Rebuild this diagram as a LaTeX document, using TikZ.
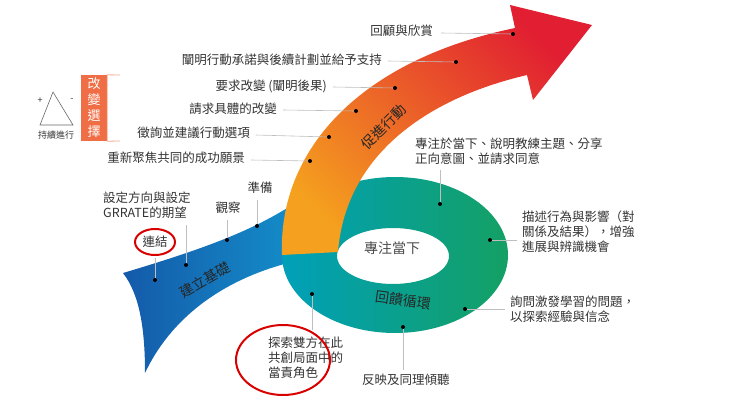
\documentclass[tikz,border=0pt]{standalone}
\usepackage{fontspec}
\setmainfont{Noto Sans CJK TC}
\begin{document}
\begin{tikzpicture}[x=1pt,y=-1pt,
  lbl/.style={font=\fontsize{12.5}{15}\selectfont, text=black!80, inner sep=0pt},
  lead/.style={draw=black!25, line width=0.6pt},
  dotm/.style={circle, fill=black, inner sep=0pt, minimum size=4pt},
  band/.style={font=\fontsize{14}{16}\selectfont, text=black!85, inner sep=0pt},
  redring/.style={draw=red!85!black, line width=2pt}]
\useasboundingbox (0,0) rectangle (740,416);
\definecolor{bblue}{RGB}{20,90,170}
\definecolor{bblue2}{RGB}{20,140,200}
\definecolor{rteal}{RGB}{0,160,185}
\definecolor{rgreen}{RGB}{20,160,100}
\definecolor{aorange}{RGB}{245,160,30}
\definecolor{ared}{RGB}{225,30,50}
\definecolor{boxor}{RGB}{240,110,70}
% blue band
\path[left color=bblue, right color=bblue2]
  (123,273) .. controls (200,250) and (250,232) .. (292,205) -- (292,262)
  .. controls (220,280) and (170,320) .. (145,373)
  .. controls (145,330) and (140,295) .. (123,273) -- cycle;
% green ring
\path[even odd rule, left color=rteal, right color=rgreen]
  (395,255) ellipse [x radius=113, y radius=78]
  (393,256) ellipse [x radius=56, y radius=28];
% arrow
\path[bottom color=aorange, top color=ared, shading angle=-45]
  (282,255) .. controls (278,150) and (360,60) .. (515,28) -- (510,5) -- (592,25)
  -- (533,100) -- (527,75) .. controls (420,100) and (345,160) .. (338,252) -- cycle;
% band labels
\node[band, rotate=45] (l1) at (384,127) {促進行動};
\node[band, rotate=30] (l2) at (205,280) {建立基礎};
\node[band, rotate=-8] (l3) at (403,300) {回饋循環};
\node[band, text=black!70] (l4) at (392,248) {專注當下};
% dots
\node[dotm] (d1) at (513,34) {};
\node[dotm] (d2) at (456,62) {};
\node[dotm] (d3) at (395,88) {};
\node[dotm] (d4) at (356,111) {};
\node[dotm] (d5) at (329,137) {};
\node[dotm] (d6) at (310,161) {};
\node[dotm] (d7) at (155,280) {};
\node[dotm] (d8) at (186,265) {};
\node[dotm] (d9) at (227,240) {};
\node[dotm] (d10) at (257,226) {};
\node[dotm] (d11) at (312,294) {};
\node[dotm] (d12) at (403,327) {};
\node[dotm] (d13) at (465,309) {};
\node[dotm] (d14) at (490,240) {};
\node[dotm] (d15) at (440,204) {};
% labels
\node[lbl, anchor=east] (t1) at (433,31) {回顧與欣賞};
\node[lbl, anchor=east] (t2) at (382,60) {闡明行動承諾與後續計劃並給予支持};
\node[lbl, anchor=east] (t3) at (327,86) {要求改變 (闡明後果)};
\node[lbl, anchor=east] (t4) at (277,109) {請求具體的改變};
\node[lbl, anchor=east] (t5) at (250,133) {徵詢並建議行動選項};
\node[lbl, anchor=east] (t6) at (245,158) {重新聚焦共同的成功願景};
\node[lbl, align=left, anchor=west] (t7) at (103,205) {設定方向與設定\\GRRATE的期望};
\node[lbl] (t8) at (228,208) {觀察};
\node[lbl] (t9) at (260,188) {準備};
\node[lbl] (t10) at (155,242) {連結};
\node[lbl, align=left, anchor=north west] (t11) at (268,337) {探索雙方在此\\共創局面中的\\當責角色};
\node[lbl, anchor=west] (t12) at (362,380) {反映及同理傾聽};
\node[lbl, align=left, anchor=west] (t13) at (510,309) {詢問激發學習的問題，\\以探索經驗與信念};
\node[lbl, align=left, anchor=west] (t14) at (522,232) {描述行為與影響（對\\關係及結果），增強\\進展與辨識機會};
\node[lbl, align=left, anchor=west] (t15) at (415,151) {專注於當下、說明教練主題、分享\\正向意圖、並請求同意};
% leaders
\draw[lead] (t1.east) ++(8,2) -- (d1);
\draw[lead] (t2.east) ++(6,1) -- (d2);
\draw[lead] (t3.east) ++(6,1) -- (d3);
\draw[lead] (t4.east) ++(6,1) -- (d4);
\draw[lead] (t5.east) ++(6,2) -- (d5);
\draw[lead] (t6.east) ++(6,2) -- (d6);
\draw[lead] (d8) -- (186,225);
\draw[lead] (d9) -- (227,220);
\draw[lead] (d10) -- (257,200);
\draw[lead] (d7) -- (155,258);
\draw[lead] (d11) -- (312,330);
\draw[lead] (d12) -- (403,370);
\draw[lead] (d13) -- (505,309);
\draw[lead] (d14) -- (517,240);
\draw[lead] (d15) -- (440,170);
% red circles
\draw[redring] (t10) ellipse [x radius=20, y radius=13];
\draw[redring] (283,360) ellipse [x radius=47, y radius=35];
% change choice box
\node[fill=boxor, text=white, minimum width=26pt, minimum height=66pt, inner sep=0pt,
  align=center, font=\fontsize{13}{16}\selectfont] (box) at (94,108) {改\\變\\選\\擇};
\draw[boxor!60, line width=0.8pt] (box.north east) -- (120,75.0) (box.north east) -- (box.south east) (box.south east) -- (120,141);
% triangle
\coordinate (ta) at (53,92); \coordinate (tb) at (40,125); \coordinate (tc) at (73,125);
\draw[black!60, line width=0.6pt] (ta) -- (tb) -- (tc) -- cycle;
\node[lbl, font=\fontsize{9}{10}\selectfont] (tp) at (40,101) {+};
\node[lbl, font=\fontsize{9}{10}\selectfont] (tm) at (72,100) {-};
\node[lbl, font=\fontsize{9}{10}\selectfont] (tk) at (56,135) {持續進行};
\end{tikzpicture}
\end{document}
